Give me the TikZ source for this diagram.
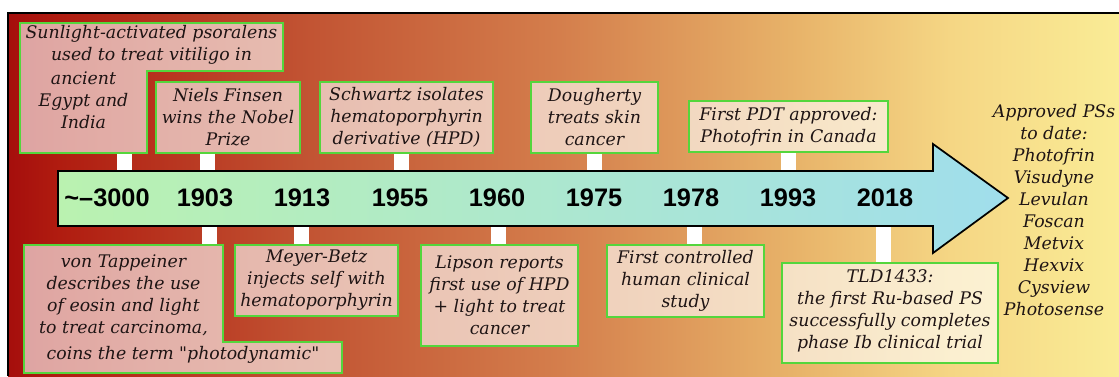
\documentclass[tikz,border=0pt]{standalone}
\usepackage{fontspec}
\newfontfamily\eventfont{DejaVu Serif}
\newfontfamily\yearfont{Liberation Sans}

\definecolor{bgA}{RGB}{165,14,12}
\definecolor{bgB}{RGB}{176,28,16}
\definecolor{bgC}{RGB}{193,82,50}
\definecolor{bgD}{RGB}{212,126,76}
\definecolor{bgE}{RGB}{232,180,106}
\definecolor{bgF}{RGB}{245,214,132}
\definecolor{bgG}{RGB}{250,236,150}
\definecolor{arrowgreen}{RGB}{186,242,176}
\definecolor{arrowblue}{RGB}{160,222,236}
\definecolor{boxgreen}{RGB}{84,214,60}
\definecolor{inkcolor}{RGB}{30,20,20}

\pgfdeclarehorizontalshading{bgshade}{100bp}{color(0bp)=(bgA); color(25bp)=(bgA); color(27.3bp)=(bgB); color(38.1bp)=(bgC); color(49.8bp)=(bgD); color(60.6bp)=(bgE); color(67.4bp)=(bgF); color(75bp)=(bgG); color(100bp)=(bgG)}

\tikzset{
  eventbox/.style={draw=boxgreen, line width=1.2, fill=white, fill opacity=0.62},
  eventtext/.style={font=\eventfont\itshape\fontsize{13}{16.5}\selectfont, text=inkcolor, align=center, inner sep=0pt},
  yeartext/.style={font=\yearfont\bfseries\fontsize{19}{22}\selectfont, text=black, inner sep=0pt},
  tickmark/.style={fill=white},
}

\begin{document}
\begin{tikzpicture}[x=0.75pt,y=0.75pt,yscale=-1]
\useasboundingbox (0,0) rectangle (1119,376);

%Background
\shade [shading=bgshade] (8,13) rectangle (1119,376);
\draw [line width=1.5] (8,376) -- (8,13) -- (1119,13);

%Ticks above
\fill [tickmark] (117,153) rectangle (132,171);
\fill [tickmark] (200,153) rectangle (215,171);
\fill [tickmark] (394,153) rectangle (409,171);
\fill [tickmark] (587,153) rectangle (602,171);
\fill [tickmark] (781,153) rectangle (796,171);
%Ticks below
\fill [tickmark] (202,226) rectangle (217,245);
\fill [tickmark] (294,226) rectangle (309,245);
\fill [tickmark] (491,226) rectangle (506,245);
\fill [tickmark] (687,226) rectangle (702,245);
\fill [tickmark] (876,226) rectangle (891,263);

%Arrow
\draw [line width=1.3, left color=arrowgreen, right color=arrowblue] (58,171) -- (933,171) -- (933,144) -- (1008,198) -- (933,253) -- (933,226) -- (58,226) -- cycle;

%Boxes above
\draw [eventbox] (20,23) -- (283,23) -- (283,71) -- (147,71) -- (147,153) -- (20,153) -- cycle;
\draw [eventbox] (156,82) rectangle (300,153);
\draw [eventbox] (320,82) rectangle (493,153);
\draw [eventbox] (531,82) rectangle (658,153);
\draw [eventbox] (689,101) rectangle (888,152);
%Boxes below
\draw [eventbox] (24,245) -- (223,245) -- (223,342) -- (342,342) -- (342,373) -- (24,373) -- cycle;
\draw [eventbox] (235,245) rectangle (398,316);
\draw [eventbox] (421,245) rectangle (578,346);
\draw [eventbox] (607,245) rectangle (764,317);
\draw [eventbox] (782,263) rectangle (998,363);

% Text Node
\node [yeartext] (y3000) at (107,198) {\textasciitilde–3000};
\node [yeartext] (y1903) at (205,198) {1903};
\node [yeartext] (y1913) at (302,198) {1913};
\node [yeartext] (y1955) at (400,198) {1955};
\node [yeartext] (y1960) at (497,198) {1960};
\node [yeartext] (y1975) at (594,198) {1975};
\node [yeartext] (y1978) at (691,198) {1978};
\node [yeartext] (y1993) at (788,198) {1993};
\node [yeartext] (y2018) at (885,198) {2018};

% Text Node
\node [eventtext] (psoralenA) at (151.5,44.5) {Sunlight-activated psoralens\\used to treat vitiligo in};
\node [eventtext] (psoralenB) at (83.5,100) {ancient\\Egypt and\\India};
\node [eventtext] (finsen) at (228,117.5) {Niels Finsen\\wins the Nobel\\Prize};
\node [eventtext] (schwartz) at (406.5,117.5) {Schwartz isolates\\hematoporphyrin\\derivative (HPD)};
\node [eventtext] (dougherty) at (594.5,117.5) {Dougherty\\treats skin\\cancer};
\node [eventtext] (photofrin) at (788.5,126.5) {First PDT approved:\\Photofrin in Canada};
% Text Node
\node [eventtext] (tappeinerA) at (123.5,295) {von Tappeiner\\describes the use\\of eosin and light\\to treat carcinoma,};
\node [eventtext] (tappeinerB) at (183,355) {coins the term "photodynamic"};
\node [eventtext] (meyerbetz) at (316.5,280.5) {Meyer-Betz\\injects self with\\hematoporphyrin};
\node [eventtext] (lipson) at (499.5,295.5) {Lipson reports\\first use of HPD\\+ light to treat\\cancer};
\node [eventtext] (clinical) at (685.5,281) {First controlled\\human clinical\\study};
\node [eventtext] (tld) at (890,311) {TLD1433:\\the first Ru-based PS\\successfully completes\\phase Ib clinical trial};
% Text Node
\node [eventtext] (approved) at (1054,210.5) {Approved PSs\\to date:\\Photofrin\\Visudyne\\Levulan\\Foscan\\Metvix\\Hexvix\\Cysview\\Photosense};

\end{tikzpicture}
\end{document}
